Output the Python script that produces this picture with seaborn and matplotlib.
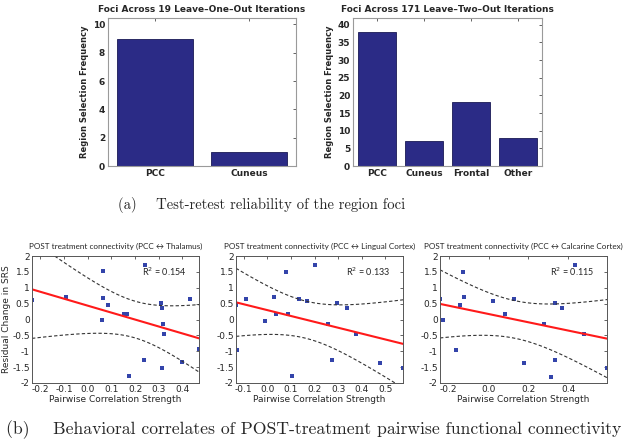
import numpy as np
import pandas as pd
import matplotlib
matplotlib.use('Agg')
import matplotlib.pyplot as plt
from matplotlib.ticker import MultipleLocator
import seaborn as sns

# ---------------- data ----------------
loo_regions = ['PCC', 'Cuneus']
loo_counts = [9, 1]

lto_regions = ['PCC', 'Cuneus', 'Frontal', 'Other']
lto_counts = [38, 7, 18, 8]

# residual change in SRS (y) against pairwise correlation strength (x)
thal_x = [-0.235, -0.092, 0.063, 0.063, 0.059, 0.086, 0.152, 0.166, 0.176, 0.241,
          0.239, 0.308, 0.315, 0.317, 0.323, 0.313, 0.397, 0.434, 0.47]
thal_y = [0.60, 0.70, 1.52, 0.67, -0.03, 0.45, 0.17, 0.17, -1.79, 1.72,
          -1.29, 0.52, 0.35, -0.15, -0.46, -1.54, -1.35, 0.66, -0.94]

ling_x = [-0.133, -0.130, -0.091, -0.008, 0.028, 0.037, 0.081, 0.088, 0.105, 0.136,
          0.170, 0.204, 0.255, 0.275, 0.297, 0.336, 0.377, 0.476, 0.575]
ling_y = [0.46, -0.95, 0.66, -0.04, 0.70, 0.17, 1.51, 0.17, -1.79, 0.66,
          0.59, 1.71, -0.15, -1.29, 0.52, 0.35, -0.46, -1.37, -1.53]

calc_x = [-0.244, -0.229, -0.165, -0.146, -0.126, -0.123, 0.020, 0.081, 0.083, 0.129,
          0.180, 0.276, 0.316, 0.333, 0.333, 0.370, 0.435, 0.477, 0.595]
calc_y = [0.66, -0.03, -0.95, 0.45, 1.51, 0.70, 0.59, 0.17, 0.17, 0.66,
          -1.37, -0.15, -1.80, 0.52, -1.29, 0.35, 1.71, -0.46, -1.53]

r2_labels = ['0.154', '0.133', '0.115']
scatter_titles = ['POST treatment connectivity (PCC \u2194 Thalamus)',
                  'POST treatment connectivity (PCC \u2194 Lingual Cortex)',
                  'POST treatment connectivity (PCC \u2194 Calcarine Cortex)']

# simultaneous 95% band multiplier sqrt(2 * F(0.95; 2, 17)), n = 19
BAND_K = 2.68

# ---------------- style ----------------
sns.set_style('white', {'xtick.direction': 'in', 'ytick.direction': 'in'})
plt.rcParams['font.family'] = ['DejaVu Sans']
plt.rcParams['axes.unicode_minus'] = False

W, H = 629, 445
fig = plt.figure(figsize=(W / 100, H / 100), dpi=100)


def px_axes(left, top, right, bottom):
    return fig.add_axes([left / W, 1 - bottom / H, (right - left) / W, (bottom - top) / H])


navy = '#2b2b86'
narrow = ['Lato', 'DejaVu Sans']


def bar_panel(ax, regions, counts, title, ymax, yticks):
    df = pd.DataFrame({'region': regions, 'count': counts})
    sns.barplot(data=df, x='region', y='count', color=navy, width=0.8,
                edgecolor='#1a1a55', linewidth=0.6, saturation=1, ax=ax)
    ax.set_xlim(-0.5, len(regions) - 0.5)
    ax.set_ylim(0, ymax)
    ax.set_yticks(yticks)
    ax.set_title(title, fontsize=6.5, fontweight='bold', pad=4)
    ax.set_xlabel('')
    ax.set_ylabel('Region Selection Frequency', fontsize=6, fontweight='bold', labelpad=3)
    ax.tick_params(labelsize=6.5, length=2, width=0.5, top=True, right=True, pad=2)
    for lab in ax.get_xticklabels() + ax.get_yticklabels():
        lab.set_fontweight('bold')
    for s in ax.spines.values():
        s.set_color('#9a9a9a')
        s.set_linewidth(0.8)


ax1 = px_axes(108, 18, 296, 166)
bar_panel(ax1, loo_regions, loo_counts, 'Foci Across 19 Leave\u2013One\u2013Out Iterations',
          10.45, range(0, 11, 2))
ax2 = px_axes(353, 18, 542, 166)
bar_panel(ax2, lto_regions, lto_counts, 'Foci Across 171 Leave\u2013Two\u2013Out Iterations',
          41.9, range(0, 41, 5))


def scatter_panel(ax, x, y, title, r2, ylabel, xstep):
    x = np.asarray(x)
    y = np.asarray(y)
    n = len(x)
    slope, intercept = np.polyfit(x, y, 1)
    resid = y - (slope * x + intercept)
    s = np.sqrt(np.sum(resid ** 2) / (n - 2))
    sxx = np.sum((x - x.mean()) ** 2)
    xs = np.linspace(x.min(), x.max(), 100)
    fit = slope * xs + intercept
    half = BAND_K * s * np.sqrt(1 / n + (xs - x.mean()) ** 2 / sxx)

    sns.lineplot(x=xs, y=fit + half, ax=ax, color='#333333', linestyle=(0, (3, 2)), linewidth=0.8)
    sns.lineplot(x=xs, y=fit - half, ax=ax, color='#333333', linestyle=(0, (3, 2)), linewidth=0.8)
    sns.lineplot(x=xs, y=fit, ax=ax, color='#ff1a1a', linewidth=1.5)
    sns.scatterplot(x=x, y=y, ax=ax, color='#3344aa', s=7, marker='s', linewidth=0)

    ax.set_xlim(x.min(), x.max())
    ax.xaxis.set_major_locator(MultipleLocator(xstep))
    ax.set_ylim(-2, 2)
    ax.set_yticks(np.arange(-2, 2.01, 0.5))
    ax.set_yticklabels(['-2', '-1.5', '-1', '-0.5', '0', '0.5', '1', '1.5', '2'])
    ax.set_title(title, fontsize=5.9, pad=5, family=narrow)
    ax.set_xlabel('Pairwise Correlation Strength', fontsize=6.5, labelpad=1)
    ax.set_ylabel(ylabel, fontsize=6.5, labelpad=1)
    ax.tick_params(labelsize=6.5, length=2, width=0.5, top=True, right=True, pad=1.5)
    ax.text(0.66, 0.84, 'R$^2$ = ' + r2, transform=ax.transAxes, fontsize=6.5, family=narrow)
    for sp in ax.spines.values():
        sp.set_color('#555555')
        sp.set_linewidth(0.7)


b1 = px_axes(32, 256, 199, 383)
scatter_panel(b1, thal_x, thal_y, scatter_titles[0], r2_labels[0], 'Residual Change in SRS', 0.1)
b2 = px_axes(236, 256, 403, 383)
scatter_panel(b2, ling_x, ling_y, scatter_titles[1], r2_labels[1], '', 0.1)
b3 = px_axes(440, 256, 607, 383)
scatter_panel(b3, calc_x, calc_y, scatter_titles[2], r2_labels[2], '', 0.2)

# captions
fig.text(261.5 / W, 1 - 205 / H, '(a)    Test-retest reliability of the region foci',
         ha='center', va='center', fontsize=10.6, family='cmr10')
fig.text(313.5 / W, 1 - 430 / H,
         '(b)    Behavioral correlates of POST-treatment pairwise functional connectivity',
         ha='center', va='center', fontsize=12.7, family='cmr10')

fig.savefig('out.png', dpi=100)
